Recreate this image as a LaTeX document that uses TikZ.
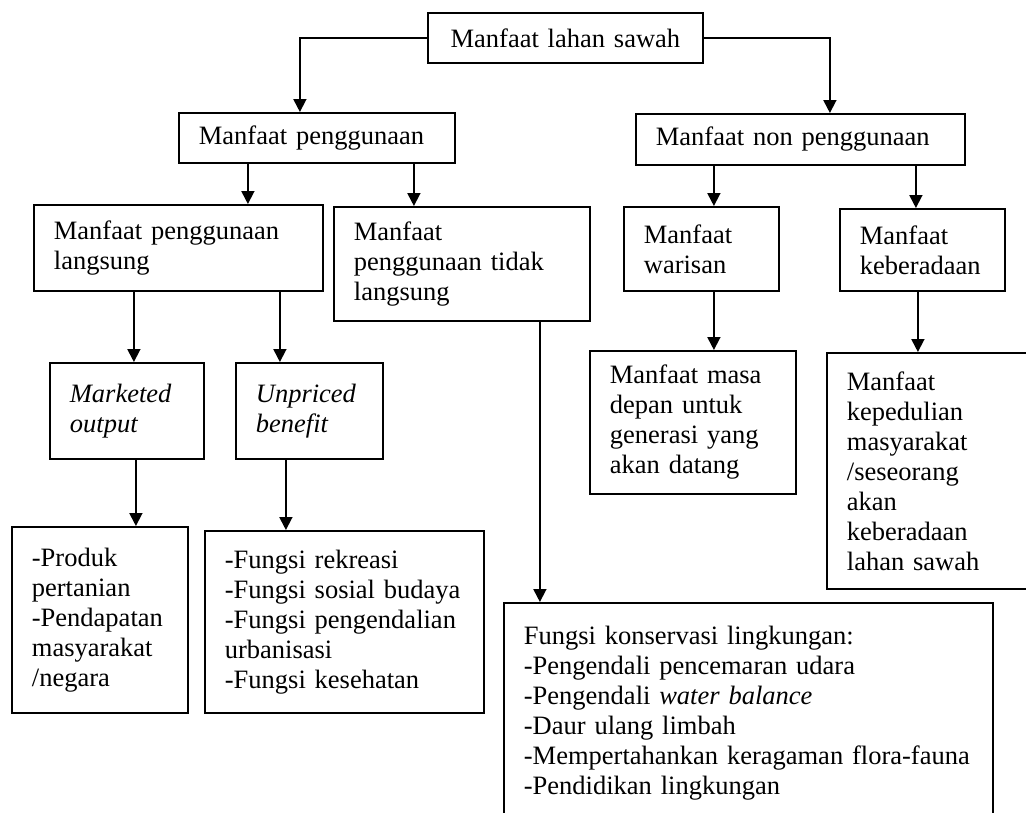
\documentclass[tikz,border=0pt]{standalone}
\usepackage{fontspec}
\setmainfont{Liberation Serif}
\usetikzlibrary{arrows.meta,calc}

\begin{document}
\begin{tikzpicture}[x=1pt,y=-1pt,
	kotak/.style={draw,line width=1.8pt,anchor=north west,inner xsep=20pt,inner ysep=4pt,
		align=left,font=\fontsize{26.5}{30}\selectfont},
	panah/.style={line width=1.8pt,-{Triangle[length=13pt,width=13pt]}}]
	\useasboundingbox (0,0) rectangle (1026,812);
	% tingkat atas
	\node[kotak,text width=235pt,align=center,minimum height=50pt] (akar) at (427,12) {Manfaat lahan sawah};
	\node[kotak,text width=236pt,minimum height=50pt] (guna) at (178,112) {Manfaat penggunaan};
	\node[kotak,text width=289pt,minimum height=51pt] (nonguna) at (635,113) {Manfaat non penggunaan};
	% tingkat kedua
	\node[kotak,text width=249pt,minimum height=86pt] (langsung) at (33,204) {Manfaat penggunaan\\langsung};
	\node[kotak,text width=216pt,minimum height=114pt] (tidak) at (333,206) {Manfaat\\penggunaan tidak\\langsung};
	\node[kotak,text width=115pt,minimum height=84pt] (warisan) at (623,206) {Manfaat\\warisan};
	\node[kotak,text width=125pt,minimum height=82pt] (ada) at (839,208) {Manfaat\\keberadaan};
	% tingkat ketiga
	\node[kotak,text width=114pt,minimum height=96pt] (market) at (49,362) {\textit{Marketed}\\\textit{output}};
	\node[kotak,text width=107pt,minimum height=96pt] (unpriced) at (235,362) {\textit{Unpriced}\\\textit{benefit}};
	\node[kotak,text width=166pt,minimum height=143pt] (masa) at (589,350) {Manfaat masa\\depan untuk\\generasi yang\\akan datang};
	\node[kotak,text width=175pt,minimum height=236pt] (peduli) at (826,352) {Manfaat\\kepedulian\\masyarakat\\/seseorang\\akan\\keberadaan\\lahan sawah};
	% tingkat bawah
	\node[kotak,text width=136pt,minimum height=186pt] (produk) at (11,526) {-Produk\\pertanian\\-Pendapatan\\masyarakat\\/negara};
	\node[kotak,text width=239pt,minimum height=182pt] (fungsi) at (204,530) {-Fungsi rekreasi\\-Fungsi sosial budaya\\-Fungsi pengendalian\\urbanisasi\\-Fungsi kesehatan};
	\node[kotak,text width=449pt,minimum height=220pt] (konservasi) at (503,602) {Fungsi konservasi lingkungan:\\-Pengendali pencemaran udara\\-Pengendali \textit{water balance}\\-Daur ulang limbah\\-Mempertahankan keragaman flora-fauna\\-Pendidikan lingkungan};
	% panah
	\draw[panah] (akar.west) -| ($(guna.north)+(-17,0)$);
	\draw[panah] (akar.east) -| ($(nonguna.north)+(29.5,0)$);
	\foreach \asal/\geser/\tuju in {guna/-69/langsung,guna/97/tidak,nonguna/-86.5/warisan,nonguna/115.5/ada,
		langsung/-44.5/market,langsung/101.5/unpriced,market/9/produk,unpriced/-23.5/fungsi,
		tidak/78/konservasi,warisan/12.5/masa,ada/-4.5/peduli}
		\draw[panah] ($(\asal.south)+(\geser,0)$) -- ($(\asal.south |- \tuju.north)+(\geser,0)$);
\end{tikzpicture}
\end{document}
